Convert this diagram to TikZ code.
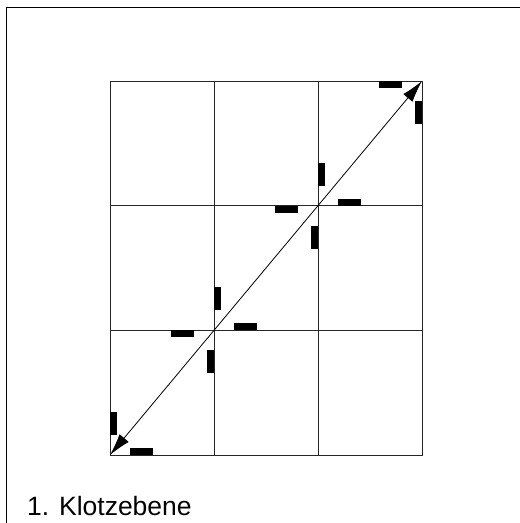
\documentclass[tikz,border=0pt]{standalone}
\usepackage{fontspec}
\setmainfont{Liberation Sans}
\usetikzlibrary{arrows.meta}
\begin{document}
\begin{tikzpicture}[x=1pt, y=1pt,
    gitter/.style={line width=0.9pt, black!85},
    klotz/.style={fill=black},
    pfeil/.style={line width=0.8pt, {Latex[length=22pt,width=12pt]}-{Latex[length=22pt,width=12pt]}}]
            \useasboundingbox (0,0) rectangle (520,523);

            % Define nodes
            \coordinate (p0) at (110,68);
            \coordinate (p1) at (214,192.7);
            \coordinate (p2) at (318,317.3);
            \coordinate (p3) at (422,442);
            \coordinate (r0) at (6.5,-2);
            \coordinate (r1) at (6.5,515);
            \coordinate (r2) at (522,515);
            \node[anchor=base west, inner sep=0pt, font=\fontsize{26.5}{31}\selectfont] (titel) at (27,7) {1. Klotzebene};

            % Draw grid
            \draw[gitter] (p0) rectangle (p3);
            \draw[gitter] (p0 -| p1) -- (p3 -| p1);
            \draw[gitter] (p0 -| p2) -- (p3 -| p2);
            \draw[gitter] (p0 |- p1) -- (p3 |- p1);
            \draw[gitter] (p0 |- p2) -- (p3 |- p2);

            % Draw frame
            \draw[line width=1pt] (r0) -- (r1) -- (r2);

            % Draw blocks
            \fill[klotz] ([shift={(0,20)}]p0) rectangle ++(7,23);
            \fill[klotz] ([shift={(20,0)}]p0) rectangle ++(23,7);

            \fill[klotz] ([shift={(0,20)}]p1) rectangle ++(7,23);
            \fill[klotz] ([shift={(20,0)}]p1) rectangle ++(23,7);
            \fill[klotz] ([shift={(-43,-7)}]p1) rectangle ++(23,7);
            \fill[klotz] ([shift={(-7,-43)}]p1) rectangle ++(7,23);

            \fill[klotz] ([shift={(0,20)}]p2) rectangle ++(7,23);
            \fill[klotz] ([shift={(20,0)}]p2) rectangle ++(23,7);
            \fill[klotz] ([shift={(-43,-7)}]p2) rectangle ++(23,7);
            \fill[klotz] ([shift={(-7,-43)}]p2) rectangle ++(7,23);

            \fill[klotz] ([shift={(-43,-7)}]p3) rectangle ++(23,7);
            \fill[klotz] ([shift={(-7,-43)}]p3) rectangle ++(7,23);

            % Draw edges
            \draw[pfeil] (p0) -- (p3);

        \end{tikzpicture}
\end{document}
